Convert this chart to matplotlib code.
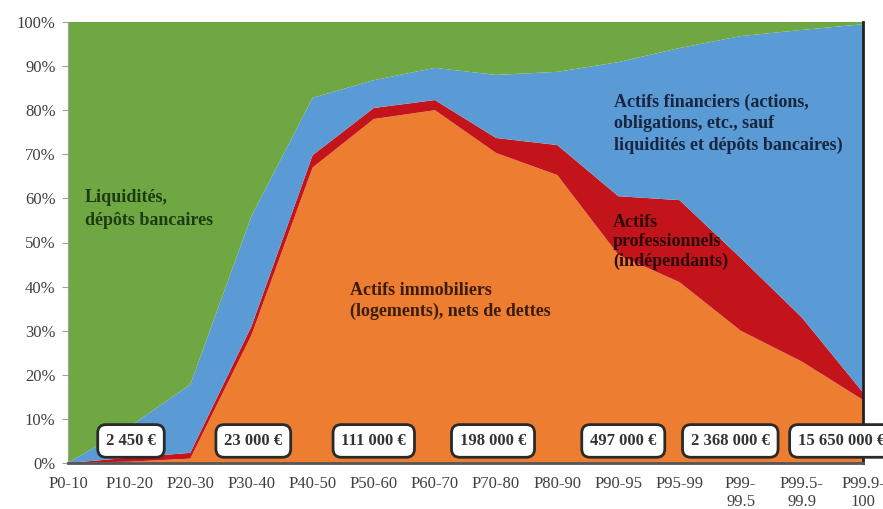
import matplotlib
matplotlib.use("Agg")
import matplotlib.pyplot as plt
import numpy as np

categories = ["P0-10", "P10-20", "P20-30", "P30-40", "P40-50", "P50-60", "P60-70",
              "P70-80", "P80-90", "P90-95", "P95-99", "P99-\n99.5", "P99.5-\n99.9", "P99.9-\n100"]

# shares (%) of each asset class
immobilier = [0.0, 0.3, 1.0, 29.0, 67.0, 78.0, 80.0, 70.3, 65.3, 47.2, 41.0, 30.0, 23.0, 14.3]
professionnels = [0.0, 0.9, 1.3, 2.0, 2.8, 2.5, 2.3, 3.4, 6.8, 13.3, 18.6, 16.5, 10.0, 1.7]
financiers = [0.0, 7.0, 15.5, 25.0, 13.0, 6.3, 7.3, 14.3, 16.6, 30.4, 34.5, 50.3, 65.2, 83.5]
liquidites = [100 - a - b - c for a, b, c in zip(immobilier, professionnels, financiers)]

box_labels = ["2 450 €", "23 000 €", "111 000 €", "198 000 €", "497 000 €", "2 368 000 €", "15 650 000 €"]
box_positions = [1.03, 3.03, 5.0, 6.95, 9.08, 10.83, 12.65]

colors = ["#ED7D31", "#C4141B", "#5B9BD5", "#6FA843"]

plt.rcParams['font.family'] = ['Liberation Serif', 'DejaVu Serif']

fig = plt.figure(figsize=(8.83, 5.09), dpi=100)
ax = fig.add_axes([68/883, 1-463/509, (863-68)/883, (463-22)/509])

x = np.arange(len(categories))
ax.stackplot(x, immobilier, professionnels, financiers, liquidites, colors=colors, linewidth=0)

ax.set_xlim(0, len(categories) - 1)
ax.set_ylim(0, 100)
ax.set_yticks(np.arange(0, 101, 10))
ax.set_yticklabels([f"{v}%" for v in range(0, 101, 10)], fontsize=12, color="#404040")
ax.set_xticks(x)
ax.set_xticklabels(categories, fontsize=12, color="#404040", va="top", linespacing=1.25)
ax.tick_params(axis="y", length=4, color="#A0A0A0", pad=5)
ax.tick_params(axis="x", length=0, pad=9)

ax.spines["top"].set_visible(False)
ax.spines["left"].set_color("#A0A0A0")
ax.spines["bottom"].set_color("#555555")
ax.spines["bottom"].set_linewidth(2.0)
ax.spines["right"].set_color("#222222")
ax.spines["right"].set_linewidth(2.0)

ax.text(0.28, 57.6, "Liquidités,\ndépôts bancaires", fontsize=13, fontweight="bold",
        color="#1E3A12", ha="left", va="center", linespacing=1.45)
ax.text(8.93, 76.9, "Actifs financiers (actions,\nobligations, etc., sauf\nliquidités et dépôts bancaires)",
        fontsize=13, fontweight="bold", color="#17253F", ha="left", va="center", linespacing=1.3)
ax.text(4.61, 36.7, "Actifs immobiliers\n(logements), nets de dettes", fontsize=13, fontweight="bold",
        color="#3A1D08", ha="left", va="center", linespacing=1.3)
ax.text(8.91, 50.1, "Actifs\nprofessionnels\n(indépendants)", fontsize=13, fontweight="bold",
        color="#2A0A0A", ha="left", va="center", linespacing=1.15)

for lab, pos in zip(box_labels, box_positions):
    ax.text(pos, 5.0, lab, fontsize=12, fontweight="bold", color="#333333",
            ha="center", va="center", clip_on=False,
            bbox=dict(boxstyle="round,pad=0.5,rounding_size=0.5", fc="white",
                      ec="#2A2A2A", lw=2.0))

fig.savefig("out.png", dpi=100, facecolor="white")
